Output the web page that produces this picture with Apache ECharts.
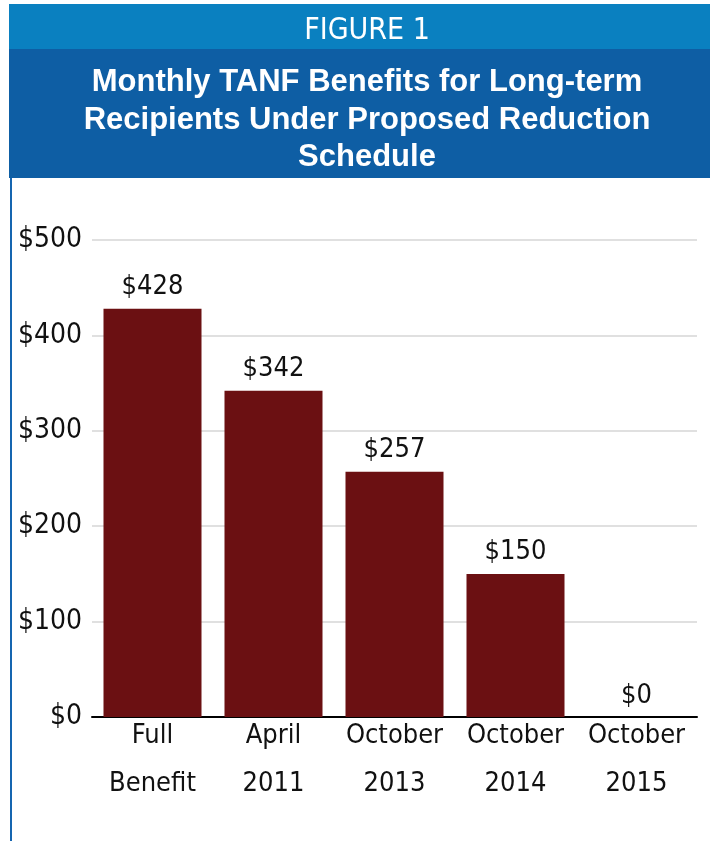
<!DOCTYPE html>
<html><head><meta charset="utf-8">
<script src="https://cdn.jsdelivr.net/npm/echarts@6/dist/echarts.min.js"></script>
<style>html,body{margin:0;padding:0;background:#fff}#c{width:710px;height:841px}</style>
</head><body><div id="c"></div>
<script>
const categories = ['Full\nBenefit', 'April\n2011', 'October\n2013', 'October\n2014', 'October\n2015'];
const benefits = [428, 342, 257, 150, 0];
const yTicks = [0, 100, 200, 300, 400, 500];
const figureLabel = 'FIGURE 1';
const titleText = 'Monthly TANF Benefits for Long-term\nRecipients Under Proposed Reduction\nSchedule';

const FONT = '"Liberation Sans Narrow", "DejaVu Sans Condensed", sans-serif';
const TFONT = '"Liberation Sans", Arial, sans-serif';
const chart = echarts.init(document.getElementById('c'), null, {renderer: 'canvas'});
chart.setOption({
  backgroundColor: '#ffffff',
  animation: false,
  graphic: [
    {type: 'rect', left: 9, top: 4, shape: {width: 701, height: 45}, style: {fill: '#0A80C0'}, z: 0},
    {type: 'rect', left: 9, top: 49, shape: {width: 701, height: 129}, style: {fill: '#0E5EA4'}, z: 0},
    {type: 'rect', left: 10, top: 178, shape: {width: 2, height: 663}, style: {fill: '#1565B0'}, z: 0}
  ],
  title: [
    {text: figureLabel, left: 362, top: 11, textAlign: 'center',
     textStyle: {color: '#fff', fontFamily: FONT, fontSize: 30, fontWeight: 'normal'}},
    {text: titleText, left: 362, top: 59, textAlign: 'center',
     textStyle: {color: '#fff', fontFamily: TFONT, fontSize: 31, fontWeight: 'bold', lineHeight: 37.5}}
  ],
  grid: {left: 92, right: 13, top: 240, bottom: 124},
  xAxis: {
    type: 'category', data: categories,
    axisLine: {lineStyle: {color: '#000', width: 2}},
    axisTick: {show: false},
    axisLabel: {color: '#111', fontFamily: FONT, fontSize: 27, lineHeight: 48, margin: -5, interval: 0}
  },
  yAxis: {
    type: 'value', min: yTicks[0], max: yTicks[yTicks.length - 1], interval: 100,
    axisLine: {show: false}, axisTick: {show: false},
    splitLine: {lineStyle: {color: '#d6d6d6', width: 1.5}},
    axisLabel: {color: '#111', fontFamily: FONT, fontSize: 28, margin: 10, formatter: v => '$' + v}
  },
  series: [{
    type: 'bar', data: benefits, barCategoryGap: '19%',
    itemStyle: {color: '#6B1012'},
    label: {show: true, position: 'top', distance: 8, color: '#111', fontFamily: FONT, fontSize: 27,
            formatter: p => '$' + p.value}
  }]
});
</script></body></html>
